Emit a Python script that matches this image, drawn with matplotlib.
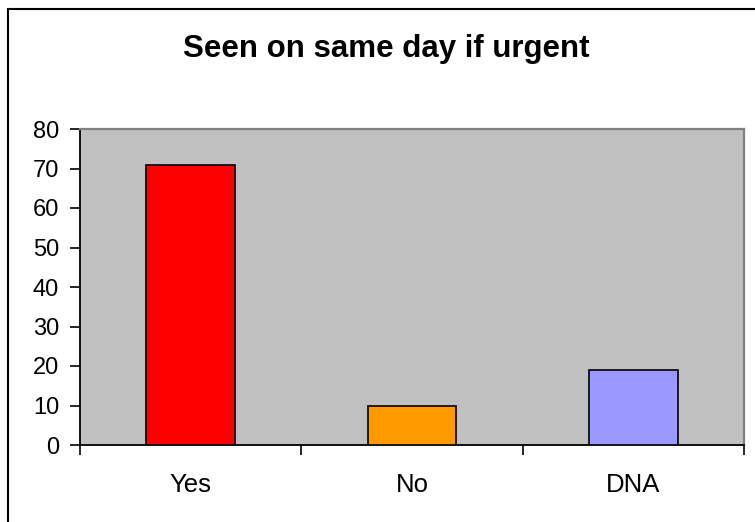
import matplotlib
matplotlib.use("Agg")
import matplotlib.pyplot as plt
from matplotlib.patches import Rectangle

categories = ["Yes", "No", "DNA"]
values = [71, 10, 19]
bar_colors = ["#FF0000", "#FF9900", "#9999FF"]
y_ticks = [0, 10, 20, 30, 40, 50, 60, 70, 80]
title = "Seen on same day if urgent"

plt.rcParams["font.family"] = ["Liberation Sans", "DejaVu Sans"]

W, H = 755, 522
fig = plt.figure(figsize=(W / 100, H / 100), dpi=100)
fig.patch.set_facecolor("white")

# outer chart frame (runs off the right and bottom edges)
fig.patches.append(Rectangle((7.5 / W, -0.1), 1.2, 1.1 - 8.5 / H,
                             transform=fig.transFigure, fill=False,
                             edgecolor="black", linewidth=1.5, clip_on=False))

ax = fig.add_axes([80 / W, (H - 445) / H, (744 - 80) / W, (445 - 129) / H])
ax.set_facecolor("#C0C0C0")

x = list(range(len(categories)))
ax.bar(x, values, width=0.40, color=bar_colors, edgecolor="black", linewidth=1.2, zorder=3)

ax.set_xlim(-0.5, len(categories) - 0.5)
ax.set_ylim(0, 80)
ax.set_yticks(y_ticks)
ax.set_yticklabels([str(v) for v in y_ticks], fontsize=17)
ax.tick_params(axis="y", direction="out", length=7, width=1.2, pad=8, color="black")

ax.set_xticks(x)
ax.set_xticklabels(categories, fontsize=18.5)
ax.tick_params(axis="x", which="major", length=0, pad=20)
ax.set_xticks([i - 0.5 for i in range(len(categories) + 1)], minor=True)
ax.tick_params(axis="x", which="minor", direction="out", length=7, width=1.2, color="black")

for side in ("left", "bottom"):
    ax.spines[side].set_color("black")
    ax.spines[side].set_linewidth(1.3)
for side in ("top", "right"):
    ax.spines[side].set_color("#808080")
    ax.spines[side].set_linewidth(1.6)

fig.text(386 / W, 1 - 49 / H, title, ha="center", va="center",
         fontsize=22.5, fontweight="bold")

fig.savefig("out.png", dpi=100)
